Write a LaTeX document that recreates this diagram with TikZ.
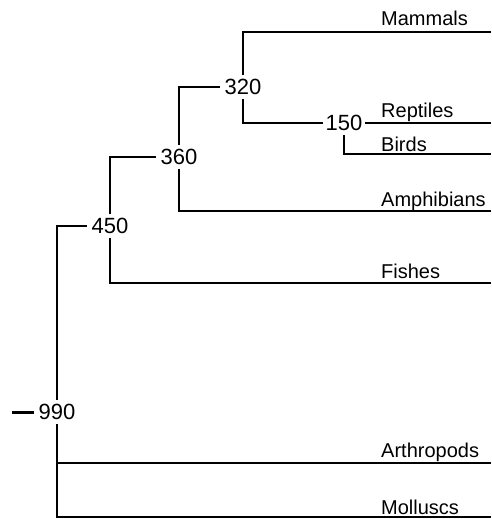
\documentclass[tikz,border=0pt]{standalone}
\usepackage{fontspec}
\setmainfont{Liberation Sans}
\usetikzlibrary{positioning}
\begin{document}
\begin{tikzpicture}[
  x=1pt,y=-1pt,
  branch/.style={draw=black,line width=2pt},
  stem/.style={draw=black,line width=3pt},
  age/.style={inner sep=4pt,font=\fontsize{22}{26}\selectfont},
  taxon/.style={inner sep=0pt,anchor=base west,font=\fontsize{20}{24}\selectfont}
]
\useasboundingbox (0,0) rectangle (491,519);
% divergence times
\node[age] (n990) at (57,412) {990};
\node[age] (n450) at (110,226) {450};
\node[age] (n360) at (179,157) {360};
\node[age] (n320) at (243,87) {320};
\node[age,inner xsep=2pt] (n150) at (344,123) {150};
% tips
\coordinate (root) at (12,412);
\coordinate (mam) at (491,32);
\coordinate (rep) at (491,123);
\coordinate (bir) at (491,154);
\coordinate (amp) at (491,211);
\coordinate (fis) at (491,283);
\coordinate (art) at (491,463);
\coordinate (mol) at (491,517);
\node[taxon] (lmam) at (381,26) {Mammals};
\node[taxon] (lrep) at (381,117) {Reptiles};
\node[taxon] (lbir) at (381,151) {Birds};
\node[taxon] (lamp) at (381,206) {Amphibians};
\node[taxon] (lfis) at (381,278) {Fishes};
\node[taxon] (lart) at (381,457) {Arthropods};
\node[taxon] (lmol) at (381,514) {Molluscs};
% branches
\draw[stem] (root) -- (n990.west);
\draw[branch] (n990.north) |- (n450.west);
\draw[branch] (n990.south) |- (art);
\draw[branch] (n990.south) |- (mol);
\draw[branch] (n450.north) |- (n360.west);
\draw[branch] (n450.south) |- (fis);
\draw[branch] (n360.north) |- (n320.west);
\draw[branch] (n360.south) |- (amp);
\draw[branch] (n320.north) |- (mam);
\draw[branch] (n320.south) |- (n150.west);
\draw[branch] (n150.east) -- (rep);
\draw[branch] (n150.south) |- (bir);
\end{tikzpicture}
\end{document}
